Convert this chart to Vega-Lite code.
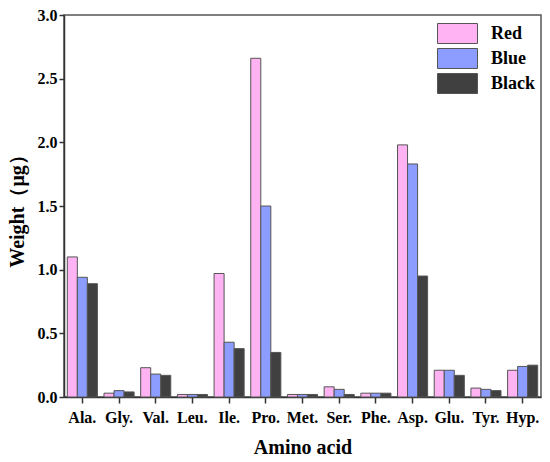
{
  "$schema": "https://vega.github.io/schema/vega-lite/v6.json",
  "width": 477,
  "height": 382,
  "autosize": "none",
  "padding": {"left": 64, "top": 15, "right": 9, "bottom": 65},
  "background": "white",
  "data": {"values": [
    {"acid": "Ala.", "group": "Red", "weight": 1.10},
    {"acid": "Ala.", "group": "Blue", "weight": 0.94},
    {"acid": "Ala.", "group": "Black", "weight": 0.89},
    {"acid": "Gly.", "group": "Red", "weight": 0.03},
    {"acid": "Gly.", "group": "Blue", "weight": 0.05},
    {"acid": "Gly.", "group": "Black", "weight": 0.04},
    {"acid": "Val.", "group": "Red", "weight": 0.23},
    {"acid": "Val.", "group": "Blue", "weight": 0.18},
    {"acid": "Val.", "group": "Black", "weight": 0.17},
    {"acid": "Leu.", "group": "Red", "weight": 0.02},
    {"acid": "Leu.", "group": "Blue", "weight": 0.02},
    {"acid": "Leu.", "group": "Black", "weight": 0.02},
    {"acid": "Ile.", "group": "Red", "weight": 0.97},
    {"acid": "Ile.", "group": "Blue", "weight": 0.43},
    {"acid": "Ile.", "group": "Black", "weight": 0.38},
    {"acid": "Pro.", "group": "Red", "weight": 2.66},
    {"acid": "Pro.", "group": "Blue", "weight": 1.50},
    {"acid": "Pro.", "group": "Black", "weight": 0.35},
    {"acid": "Met.", "group": "Red", "weight": 0.02},
    {"acid": "Met.", "group": "Blue", "weight": 0.02},
    {"acid": "Met.", "group": "Black", "weight": 0.02},
    {"acid": "Ser.", "group": "Red", "weight": 0.08},
    {"acid": "Ser.", "group": "Blue", "weight": 0.06},
    {"acid": "Ser.", "group": "Black", "weight": 0.02},
    {"acid": "Phe.", "group": "Red", "weight": 0.03},
    {"acid": "Phe.", "group": "Blue", "weight": 0.03},
    {"acid": "Phe.", "group": "Black", "weight": 0.03},
    {"acid": "Asp.", "group": "Red", "weight": 1.98},
    {"acid": "Asp.", "group": "Blue", "weight": 1.83},
    {"acid": "Asp.", "group": "Black", "weight": 0.95},
    {"acid": "Glu.", "group": "Red", "weight": 0.21},
    {"acid": "Glu.", "group": "Blue", "weight": 0.21},
    {"acid": "Glu.", "group": "Black", "weight": 0.17},
    {"acid": "Tyr.", "group": "Red", "weight": 0.07},
    {"acid": "Tyr.", "group": "Blue", "weight": 0.06},
    {"acid": "Tyr.", "group": "Black", "weight": 0.05},
    {"acid": "Hyp.", "group": "Red", "weight": 0.21},
    {"acid": "Hyp.", "group": "Blue", "weight": 0.24},
    {"acid": "Hyp.", "group": "Black", "weight": 0.25}
  ]},
  "mark": {"type": "bar", "stroke": "#555555", "strokeWidth": 1},
  "encoding": {
    "x": {
      "field": "acid",
      "type": "nominal",
      "sort": null,
      "title": "Amino acid",
      "scale": {"paddingInner": 0.18, "paddingOuter": 0.09},
      "axis": {"labelAngle": 0, "tickSize": 6, "labelPadding": 6, "titlePadding": 12}
    },
    "xOffset": {
      "field": "group",
      "type": "nominal",
      "sort": ["Red", "Blue", "Black"]
    },
    "y": {
      "field": "weight",
      "type": "quantitative",
      "title": "Weight（μg）",
      "scale": {"domain": [0, 3], "nice": false},
      "axis": {"values": [0, 0.5, 1, 1.5, 2, 2.5, 3], "format": ".1f", "grid": false, "tickSize": 5, "titlePadding": 10}
    },
    "color": {
      "field": "group",
      "type": "nominal",
      "sort": ["Red", "Blue", "Black"],
      "title": null,
      "scale": {"domain": ["Red", "Blue", "Black"], "range": ["#ffb3f3", "#8c9cff", "#404040"]},
      "legend": {
        "orient": "none",
        "legendX": 383,
        "legendY": 8,
        "padding": 0,
        "rowPadding": 0,
        "symbolType": "M-2,-1H2V1H-2Z",
        "symbolSize": 400,
        "symbolStrokeColor": "#555555",
        "symbolStrokeWidth": 1,
        "labelOffset": 23,
        "labelFont": "Liberation Serif",
        "labelFontWeight": "bold",
        "labelFontSize": 18,
        "labelColor": "black"
      }
    }
  },
  "config": {
    "view": {"stroke": "#555555", "strokeWidth": 1.5},
    "legend": {
      "labelFont": "Liberation Serif",
      "labelFontWeight": "bold",
      "labelFontSize": 18,
      "labelColor": "black"
    },
    "axis": {
      "domainColor": "#333333",
      "domainWidth": 1.5,
      "tickColor": "#333333",
      "tickWidth": 1.5,
      "labelFont": "Liberation Serif",
      "labelFontWeight": "bold",
      "labelFontSize": 16,
      "labelColor": "black",
      "titleFont": "Liberation Serif",
      "titleFontWeight": "bold",
      "titleFontSize": 20,
      "titleColor": "black"
    }
  }
}
